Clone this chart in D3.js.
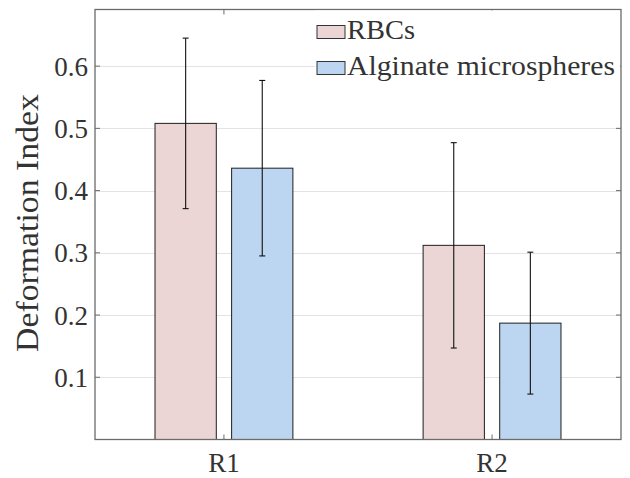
<!DOCTYPE html>
<html>
<head>
<meta charset="utf-8">
<script src="https://cdn.jsdelivr.net/npm/d3@7/dist/d3.min.js"></script>
<style>
  html, body { margin: 0; padding: 0; background: #fff; }
  svg { display: block; }
  text { font-family: "Liberation Serif", "Times New Roman", serif; fill: #333; }
</style>
</head>
<body>
<svg id="chart" width="630" height="478"></svg>
<script>
const categories = ["R1", "R2"];
const seriesNames = ["RBCs", "Alginate microspheres"];
const rbcValues = [0.508, 0.312];
const rbcErrors = [0.137, 0.165];
const alginateValues = [0.436, 0.187];
const alginateErrors = [0.141, 0.114];
const yTicks = [0.1, 0.2, 0.3, 0.4, 0.5, 0.6];
const seriesColors = ["#EBD5D5", "#BCD5F0"];

const W = 630, H = 478;
const plot = { left: 95, right: 621, top: 9.5, bottom: 439.5 };

const svg = d3.select("#chart");

const x = d3.scaleLinear().domain([0.519, 2.481]).range([plot.left, plot.right]);
const y = d3.scaleLinear().domain([0, 0.691]).range([plot.bottom, plot.top]);

const groupWidth = Math.min(0.8, 2 / (2 + 1.5));
const barWidth = groupWidth / 2 * 0.8;
const offsets = [-groupWidth / 4, groupWidth / 4];

const series = [
  { name: seriesNames[0], values: rbcValues, errors: rbcErrors, color: seriesColors[0] },
  { name: seriesNames[1], values: alginateValues, errors: alginateErrors, color: seriesColors[1] }
];

// grid
svg.append("g").selectAll("line").data(yTicks).join("line")
  .attr("x1", plot.left).attr("x2", plot.right)
  .attr("y1", d => Math.round(y(d)) + 0.5).attr("y2", d => Math.round(y(d)) + 0.5)
  .attr("stroke", "#e3e3e3").attr("stroke-width", 1);

// bars
series.forEach((s, si) => {
  const g = svg.append("g");
  g.selectAll("rect").data(s.values).join("rect")
    .attr("x", (d, i) => x(i + 1 + offsets[si] - barWidth / 2))
    .attr("width", x(barWidth) - x(0))
    .attr("y", d => y(d))
    .attr("height", d => y(0) - y(d))
    .attr("fill", s.color)
    .attr("stroke", "#1e1e1e").attr("stroke-width", 1);
});

// error bars
series.forEach((s, si) => {
  const g = svg.append("g").attr("stroke", "#111").attr("stroke-width", 1.1);
  s.values.forEach((v, i) => {
    const cx = x(i + 1 + offsets[si]);
    const lo = y(v - s.errors[i]), hi = y(v + s.errors[i]);
    g.append("line").attr("x1", cx).attr("x2", cx).attr("y1", lo).attr("y2", hi);
    g.append("line").attr("x1", cx - 3).attr("x2", cx + 3).attr("y1", lo).attr("y2", lo);
    g.append("line").attr("x1", cx - 3).attr("x2", cx + 3).attr("y1", hi).attr("y2", hi);
  });
});

// axes box and ticks
const axisColor = "#6b6b6b";
const axG = svg.append("g");
axG.append("rect")
  .attr("x", plot.left).attr("y", plot.top)
  .attr("width", plot.right - plot.left).attr("height", plot.bottom - plot.top)
  .attr("fill", "none").attr("stroke", axisColor).attr("stroke-width", 1.3);

const tickLen = 5;
yTicks.forEach(t => {
  axG.append("line").attr("x1", plot.left).attr("x2", plot.left + tickLen)
    .attr("y1", y(t)).attr("y2", y(t)).attr("stroke", axisColor);
  axG.append("line").attr("x1", plot.right).attr("x2", plot.right - tickLen)
    .attr("y1", y(t)).attr("y2", y(t)).attr("stroke", axisColor);
});
categories.forEach((c, i) => {
  axG.append("line").attr("x1", x(i + 1)).attr("x2", x(i + 1))
    .attr("y1", plot.bottom).attr("y2", plot.bottom - tickLen).attr("stroke", axisColor);
  axG.append("line").attr("x1", x(i + 1)).attr("x2", x(i + 1))
    .attr("y1", plot.top).attr("y2", plot.top + tickLen).attr("stroke", axisColor);
});

// tick labels
svg.append("g").selectAll("text").data(yTicks).join("text")
  .attr("x", plot.left - 7).attr("y", d => y(d) + 9.5)
  .attr("text-anchor", "end").attr("font-size", 27)
  .text(d => d.toFixed(1));

svg.append("g").selectAll("text").data(categories).join("text")
  .attr("x", (d, i) => x(i + 1)).attr("y", 472)
  .attr("text-anchor", "middle").attr("font-size", 27)
  .text(d => d);

// y label
svg.append("text")
  .attr("transform", "translate(38,223) rotate(-90)")
  .attr("text-anchor", "middle").attr("font-size", 31)
  .attr("textLength", 258).attr("lengthAdjust", "spacingAndGlyphs")
  .text("Deformation Index");

// legend
const lg = svg.append("g");
lg.append("rect").attr("x", 315).attr("y", plot.top + 1).attr("width", plot.right - 316).attr("height", 76)
  .attr("fill", "#fff");
const legendRows = [
  { y: 25.5, base: 38.5, len: 68 },
  { y: 61.5, base: 75, len: 268 }
];
series.forEach((s, i) => {
  const r = legendRows[i];
  lg.append("rect").attr("x", 317).attr("y", r.y).attr("width", 28).attr("height", 13)
    .attr("fill", s.color).attr("stroke", "#333").attr("stroke-width", 1);
  lg.append("text").attr("x", 347).attr("y", r.base).attr("font-size", 27)
    .attr("textLength", r.len).attr("lengthAdjust", "spacingAndGlyphs")
    .text(s.name);
});
</script>
</body>
</html>
